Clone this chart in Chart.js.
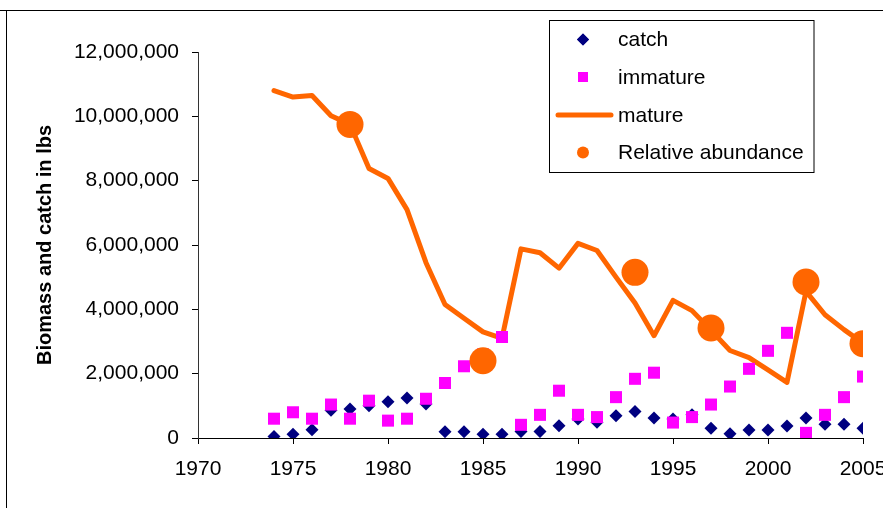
<!DOCTYPE html>
<html>
<head>
<meta charset="utf-8">
<script src="https://cdn.jsdelivr.net/npm/chart.js@4.4.1/dist/chart.umd.min.js"></script>
<style>
  html, body { margin: 0; padding: 0; background: #fff; overflow: hidden; }
  #wrap { width: 883px; height: 508px; overflow: hidden; }
</style>
</head>
<body>
<div id="wrap"><canvas id="chart" width="900" height="508"></canvas></div>
<script>
// data (lbs)
const years = [1974, 1975, 1976, 1977, 1978, 1979, 1980, 1981, 1982, 1983, 1984, 1985, 1986, 1987, 1988, 1989,
  1990, 1991, 1992, 1993, 1994, 1995, 1996, 1997, 1998, 1999, 2000, 2001, 2002, 2003, 2004, 2005];
const catchLbs = [50000, 120000, 260000, 860000, 900000, 1000000, 1130000, 1240000, 1060000, 196000, 196000, 120000,
  120000, 200000, 200000, 380000, 590000, 490000, 690000, 820000, 620000, 590000, 720000, 300000, 130000,
  250000, 250000, 370000, 620000, 430000, 430000, 300000];
const immature = [600000, 800000, 600000, 1040000, 600000, 1160000, 540000, 600000, 1220000, 1710000, 2230000, 2600000,
  3140000, 410000, 720000, 1470000, 720000, 650000, 1270000, 1840000, 2030000, 480000, 650000, 1040000, 1600000,
  2150000, 2710000, 3270000, 160000, 720000, 1270000, 1910000];
const mature = [10800000, 10600000, 10650000, 10020000, 9750000, 8380000, 8070000, 7100000, 5450000, 4150000, 3720000,
  3300000, 3100000, 5880000, 5760000, 5280000, 6050000, 5830000, 5000000, 4200000, 3180000, 4280000, 3960000,
  3350000, 2720000, 2500000, 2120000, 1730000, 4560000, 3830000, 3370000, 2950000];
const abundanceYears = [1978, 1985, 1993, 1997, 2002, 2005];
const abundance = [9750000, 2400000, 5150000, 3420000, 4850000, 2930000];
const xTicks = [1970, 1975, 1980, 1985, 1990, 1995, 2000, 2005];

const pts = (xs, ys) => xs.map((x, i) => ({ x: x, y: ys[i] }));

const legendItems = [
  { label: 'catch', kind: 'rectRot', color: '#000080' },
  { label: 'immature', kind: 'rect', color: '#FF00FF' },
  { label: 'mature', kind: 'line', color: '#FF6600' },
  { label: 'Relative abundance', kind: 'circle', color: '#FF6600' }
];

// page frame and boxed legend
const framePlugin = {
  id: 'frame',
  afterDraw(chart) {
    const c = chart.ctx;
    c.save();
    c.strokeStyle = '#000';
    c.lineWidth = 1;
    c.beginPath();
    c.moveTo(0, 10.5); c.lineTo(900, 10.5);
    c.moveTo(6.5, 10); c.lineTo(6.5, 508);
    c.stroke();

    c.fillStyle = '#fff';
    c.fillRect(549.5, 20.5, 264.5, 152);
    c.strokeRect(549.5, 20.5, 264.5, 152);

    const ys = [39.5, 77, 115, 152.5];
    c.font = '21px Arial, "Liberation Sans", sans-serif';
    c.textBaseline = 'middle';
    legendItems.forEach((it, i) => {
      const y = ys[i];
      c.fillStyle = it.color;
      if (it.kind === 'line') {
        c.strokeStyle = it.color;
        c.lineWidth = 5;
        c.lineCap = 'round';
        c.beginPath();
        c.moveTo(558, y); c.lineTo(611, y);
        c.stroke();
      } else if (it.kind === 'circle') {
        c.beginPath();
        c.arc(583, y, 6, 0, Math.PI * 2);
        c.fill();
      } else {
        c.beginPath();
        Chart.helpers.drawPoint(c, { pointStyle: it.kind, radius: it.kind === 'rect' ? 7 : 6, borderWidth: 0 }, 583, y);
        c.fill();
      }
      c.fillStyle = '#000';
      c.fillText(it.label, 618, y + 1);
    });
    c.restore();
  }
};

new Chart(document.getElementById('chart'), {
  data: {
    datasets: [
      {
        type: 'scatter', label: 'catch', data: pts(years, catchLbs), order: 4,
        pointStyle: 'rectRot', pointRadius: 6.5, backgroundColor: '#000080', borderWidth: 0
      },
      {
        type: 'scatter', label: 'immature', data: pts(years, immature), order: 2,
        pointStyle: 'rect', pointRadius: 8.5, backgroundColor: '#FF00FF', borderWidth: 0
      },
      {
        type: 'line', label: 'mature', data: pts(years, mature), order: 3,
        borderColor: '#FF6600', borderWidth: 5, pointRadius: 0, tension: 0, fill: false,
        borderJoinStyle: 'round', borderCapStyle: 'round'
      },
      {
        type: 'scatter', label: 'Relative abundance', data: pts(abundanceYears, abundance), order: 1,
        pointStyle: 'circle', pointRadius: 13.5, backgroundColor: '#FF6600', borderWidth: 0
      }
    ]
  },
  options: {
    responsive: false,
    devicePixelRatio: 1,
    animation: false,
    layout: { padding: { left: 10, top: 52, right: 37, bottom: 0 } },
    plugins: { legend: { display: false }, tooltip: { enabled: false } },
    scales: {
      x: {
        type: 'linear', min: 1970, max: 2005,
        afterBuildTicks: s => { s.ticks = xTicks.map(v => ({ value: v })); },
        afterFit: s => { s.height = 70; },
        grid: { drawOnChartArea: false, tickLength: 6, color: '#000' },
        border: { color: '#000', width: 1 },
        ticks: {
          color: '#000', padding: 13, maxRotation: 0,
          font: { family: 'Arial, "Liberation Sans", sans-serif', size: 21 },
          callback: v => String(v)
        }
      },
      y: {
        min: 0, max: 12000000,
        afterFit: s => { s.width = 188; },
        grid: { drawOnChartArea: false, tickLength: 6, color: '#000' },
        border: { color: '#333', width: 1 },
        ticks: {
          stepSize: 2000000, color: '#000', padding: 13,
          font: { family: 'Arial, "Liberation Sans", sans-serif', size: 21 },
          callback: v => v.toLocaleString('en-US')
        },
        title: {
          display: true, text: 'Biomass and catch in lbs', color: '#000',
          padding: { top: 23, bottom: 0 },
          font: { family: 'Arial, "Liberation Sans", sans-serif', size: 20, weight: 'bold' }
        }
      }
    }
  },
  plugins: [framePlugin]
});
</script>
</body>
</html>
